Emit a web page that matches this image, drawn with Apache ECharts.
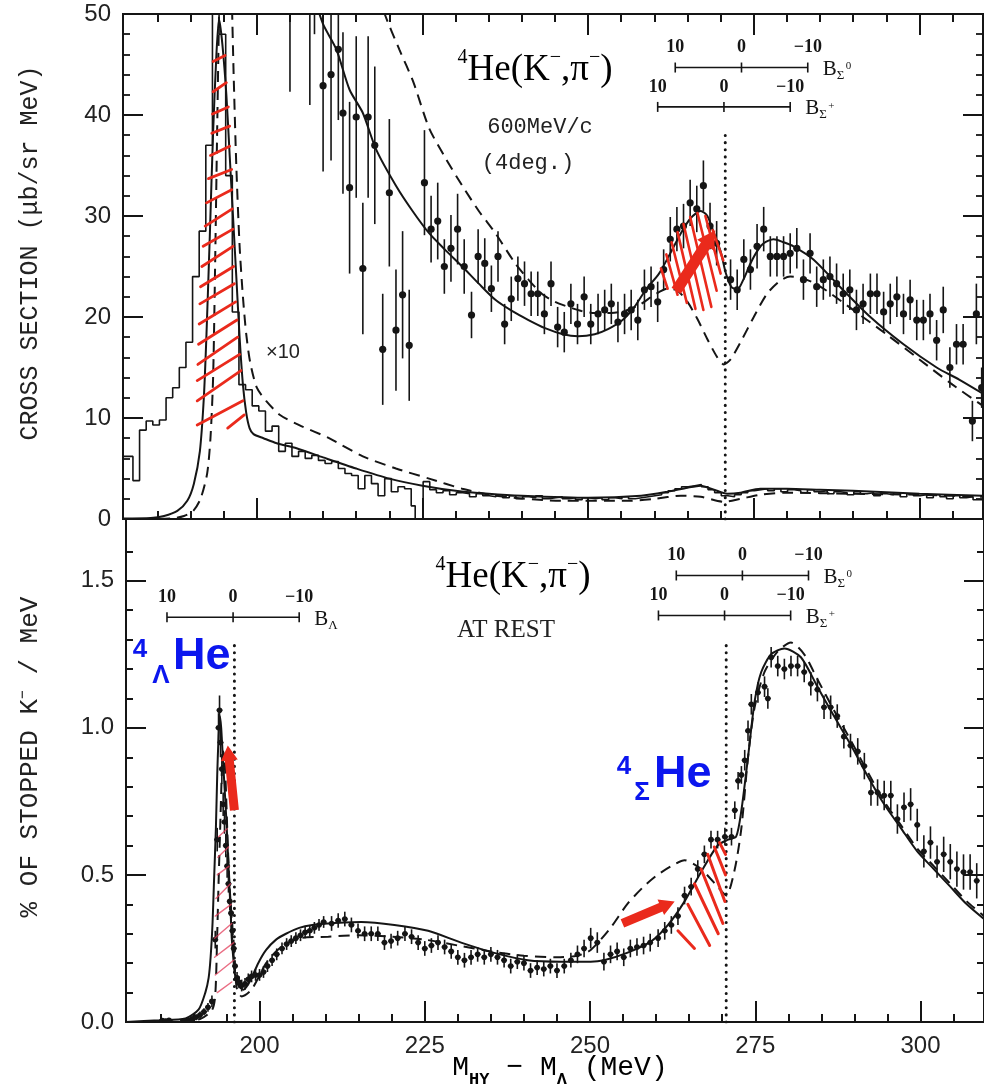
<!DOCTYPE html>
<html>
<head>
<meta charset="utf-8">
<title>4He(K-,pi-) spectra</title>
<script src="https://cdn.jsdelivr.net/npm/echarts@6/dist/echarts.min.js"></script>
<style>
  html, body { margin: 0; padding: 0; background: #fff; }
  #chart { width: 984px; height: 1092px; }
</style>
</head>
<body>
<div id="chart"></div>
<script>
// axis ticks
const xRange = [179.8, 309.6]
const xMajor = [200, 225, 250, 275, 300]
const xMinor = [185, 190, 195, 205, 210, 215, 220, 230, 235, 240, 245, 255, 260, 265, 270, 280, 285, 290, 295, 305]
const yBotMajor = [0, 0.5, 1.0, 1.5]
const yBotMinor = [0.1, 0.2, 0.3, 0.4, 0.6, 0.7, 0.8, 0.9, 1.1, 1.2, 1.3, 1.4, 1.6]

// ---- top panel, 600 MeV/c (4 deg.) ----
// histogram [bin left edge, counts]
const histTop = [
  [179.8, 6.2], [180.3, 6.2], [181.3, 3.8], [182.3, 8.8], [183.3, 9.7], [184.3, 9.3], [185.3, 9.8], [186.3, 12.0],
  [187.3, 13.0], [188.3, 15.0], [189.3, 17.5], [190.3, 24.0], [191.3, 28.5], [192.3, 37.0], [193.3, 55.0],
  [194.3, 48.0], [195.3, 34.0], [196.3, 20.5], [197.3, 13.3], [198.3, 12.8], [199.3, 11.2], [200.3, 10.7],
  [201.3, 8.7], [202.3, 9.2], [203.3, 6.7], [204.3, 7.5], [205.3, 6.2], [206.3, 6.7], [207.3, 6.0], [208.3, 6.3],
  [209.3, 5.8], [210.3, 5.5], [211.3, 5.7], [212.3, 5.0], [213.3, 4.5], [214.3, 4.3], [215.3, 3.0], [216.3, 4.3],
  [217.3, 3.5], [218.3, 2.3], [219.3, 4.0], [220.3, 2.7], [221.3, 3.2], [222.3, 3.0], [223.3, 1.3], [223.9, 0],
  [225.1, 3.7], [226.1, 2.9], [227.1, 2.6], [228.1, 2.8], [229.1, 2.4], [230.1, 2.6], [231.1, 2.5], [232.1, 2.2],
  [233.1, 2.5], [234.1, 2.3], [235.1, 2.2], [236.1, 2.4], [237.1, 2.1], [238.1, 2.3], [239.1, 2.0], [240.1, 2.2],
  [241.1, 2.1], [242.1, 2.3], [243.1, 2.0], [244.1, 2.1], [245.1, 2.2], [246.1, 2.0], [247.1, 2.1], [248.1, 1.9],
  [249.1, 2.1], [250.1, 2.0], [251.1, 2.1], [252.1, 1.9], [253.1, 2.1], [254.1, 2.0], [255.1, 2.2], [256.1, 2.0],
  [257.1, 2.1], [258.1, 2.2], [259.1, 2.3], [260.1, 2.4], [261.1, 2.6], [262.1, 2.8], [263.1, 3.0], [264.1, 3.2],
  [265.1, 3.3], [266.1, 3.4], [267.1, 3.2], [268.1, 2.9], [269.1, 2.6], [270.1, 2.3], [271.1, 2.2], [272.1, 2.4],
  [273.1, 2.6], [274.1, 2.8], [275.1, 2.9], [276.1, 3.0], [277.1, 2.8], [278.1, 3.0], [279.1, 2.7], [280.1, 2.9],
  [281.1, 2.8], [282.1, 2.6], [283.1, 2.9], [284.1, 2.7], [285.1, 2.8], [286.1, 2.5], [287.1, 2.7], [288.1, 2.6],
  [289.1, 2.4], [290.1, 2.7], [291.1, 2.5], [292.1, 2.6], [293.1, 2.3], [294.1, 2.5], [295.1, 2.4], [296.1, 2.6],
  [297.1, 2.2], [298.1, 2.5], [299.1, 2.3], [300.1, 2.4], [301.1, 2.1], [302.1, 2.4], [303.1, 2.2], [304.1, 2.0],
  [305.1, 2.3], [306.1, 2.1], [307.1, 2.2], [308.1, 1.9], [309.6, 1.9]
]
const solidLowTop = [
  [179.8, 0.05], [184, 0.1], [186, 0.3], [188, 0.8], [189.5, 1.8], [190.5, 3.5], [191.4, 6.7], [192, 12], [192.4, 18.3],
  [192.9, 28], [193.4, 38.3], [193.9, 46], [194.3, 49.5], [194.8, 47], [195.4, 42], [195.9, 36], [196.4, 30], [196.9, 24],
  [197.4, 18], [197.9, 13.3], [198.4, 10.5], [198.9, 9], [199.5, 8.4], [201, 8], [203, 7.5], [206, 7], [210, 6.1],
  [215, 5], [220, 4], [225, 3.3], [230, 2.8], [235, 2.5], [240, 2.3], [250, 2.1], [258, 2.3], [262, 2.7], [265, 3.1],
  [267, 3.3], [269, 2.9], [271, 2.5], [273, 2.6], [276, 3.0], [280, 3.0], [285, 2.9], [290, 2.8], [300, 2.5], [309.6, 2.3]
]
const dashedLowTop = [
  [179.8, 0], [187, 0.05], [189, 0.3], [190.4, 0.8], [191.5, 2], [192.5, 4.5], [193, 8], [193.4, 14], [193.7, 25], [194, 38],
  [194.3, 50], [194.6, 58], [195.3, 62], [195.9, 58], [196.2, 52], [196.5, 44], [196.9, 35], [197.4, 27], [197.9, 22],
  [198.4, 18.3], [199, 15.5], [200, 13], [201.4, 11.7], [203.5, 10.3], [206.4, 9.3], [210.9, 8.0], [216, 6.2], [221, 5],
  [226, 4], [231, 3], [236, 2.3], [246, 1.8], [256, 1.8], [260, 2.0], [264, 2.3], [267, 2.2], [270.5, 1.7], [273, 2.0],
  [276, 2.4], [280, 2.6], [290, 2.5], [300, 2.4], [309.6, 2.2]
]
// x10 curves
const solidHighTop = [
  [208.5, 52], [210, 49], [212, 46.5], [214, 42.5], [216, 40.2], [218, 36.6], [221, 33], [223.5, 30.5], [226, 28.3],
  [228.5, 26.6], [231, 25], [233.5, 23.3], [236, 21.7], [238.5, 20.6], [241, 19.7], [243.5, 18.9], [246.2, 18.3],
  [248.5, 18.1], [251, 18.3], [253, 18.8], [255.2, 19.7], [257, 21], [258.7, 22.7], [260.7, 24.3], [262.4, 26.3],
  [264, 28.3], [265.5, 29.8], [267, 30.5], [268, 30], [269, 28.3], [270, 26.5], [270.8, 24.3], [271.6, 23], [272.5, 22.7],
  [273.5, 23.8], [274.5, 25.3], [275.5, 26.5], [276.5, 27.3], [278, 27.7], [279.5, 27.4], [281, 27], [284, 25.7],
  [288, 23], [292.6, 20], [297.6, 17.3], [302.6, 15], [306, 13.8], [309.6, 12.4]
]
const dashedHighTop = [
  [218.5, 52], [219.3, 50], [221.5, 46.5], [223.6, 43.3], [226, 38.7], [228.5, 35.7], [231, 33], [233.5, 30.5],
  [236, 28.3], [239, 25.3], [241, 23.7], [243, 22.3], [245, 21.5], [247, 21], [249, 20.6], [251, 20.4], [253.5, 20.4],
  [256, 20.7], [258, 21.3], [260, 22.2], [262, 22.8], [263.5, 22.6], [265, 21.5], [266.5, 19.8], [268, 17.8],
  [269.5, 16], [270.5, 15.3], [271.5, 15.8], [273, 17.5], [275, 20], [277, 22.3], [279, 23.6], [280.5, 24], [282, 23.9],
  [284, 23.4], [286, 22.6], [290, 20.7], [295, 18.3], [300, 15.8], [305, 13.3], [309.6, 11.2]
]
// x10 data [x, y, error]
const pointsTop = [
  [205.0, 53, 10.7], [208.0, 52, 11], [208.7, 56, 8], [210.0, 42.9, 8.5], [211.2, 44, 8.5], [212.3, 46.5, 7],
  [213.0, 40.2, 8], [214.0, 32.8, 8.5], [215.0, 39.8, 8], [216.0, 24.8, 6.5], [216.8, 39.8, 8], [217.8, 37.0, 7.8],
  [219.0, 16.8, 5.5], [220.0, 32.3, 7.3], [221.0, 18.7, 6], [222.0, 22.2, 6.3], [223.0, 17.2, 5.5], [225.3, 33.3, 5.2],
  [226.3, 28.7, 3.3], [227.3, 29.5, 3.8], [228.3, 25.0, 2.7], [229.3, 26.8, 3.3], [230.3, 28.7, 3.5], [231.3, 25.0, 2.7],
  [232.4, 20.2, 2.3], [233.4, 26.0, 2.7], [234.4, 25.3, 2.5], [235.4, 22.8, 2.3], [236.4, 26.0, 2.5], [237.4, 19.3, 2.0],
  [238.4, 21.8, 2.2], [239.4, 23.8, 2.2], [240.4, 23.3, 2.2], [241.4, 22.3, 2.2], [242.4, 22.3, 2.2], [243.4, 20.3, 2.0],
  [244.4, 23.3, 2.2], [245.4, 19.0, 2.0], [246.4, 18.5, 2.0], [247.4, 21.3, 2.0], [248.4, 19.3, 2.0], [249.4, 22.0, 2.0],
  [250.4, 19.3, 2.0], [251.5, 20.3, 2.0], [252.5, 20.7, 2.0], [253.5, 21.3, 2.0], [254.5, 19.5, 2.0], [255.5, 20.3, 2.0],
  [256.5, 20.7, 2.0], [257.5, 19.7, 2.0], [258.5, 22.7, 2.0], [259.5, 23.0, 2.0], [260.5, 21.5, 2.0], [261.4, 24.7, 2.0],
  [262.4, 27.7, 2.2], [263.4, 28.7, 2.2], [264.4, 29.0, 2.2], [265.4, 31.3, 2.3], [266.4, 30.7, 2.3], [267.4, 33.0, 2.5],
  [268.4, 29.0, 2.3], [269.4, 27.3, 2.2], [271.5, 23.7, 2.0], [272.5, 22.7, 2.0], [273.5, 25.7, 2.0], [274.5, 24.7, 2.0],
  [275.5, 27.0, 2.2], [276.5, 28.7, 2.2], [277.5, 26.0, 2.0], [278.5, 26.0, 2.0], [279.5, 26.0, 2.0], [280.5, 26.3, 2.0],
  [281.5, 26.8, 2.0], [282.5, 23.7, 2.0], [283.5, 26.3, 2.0], [284.5, 23.0, 2.0], [285.5, 23.7, 2.0], [286.5, 24.0, 2.0],
  [287.5, 23.3, 2.0], [288.5, 22.3, 2.0], [289.5, 22.7, 2.0], [290.5, 20.7, 2.0], [291.5, 21.3, 2.0], [292.6, 22.3, 2.0],
  [293.6, 22.3, 2.0], [294.6, 20.5, 2.0], [295.6, 21.3, 2.0], [296.6, 22.0, 2.0], [297.6, 20.3, 2.0], [298.6, 21.7, 2.0],
  [299.6, 19.7, 2.0], [300.6, 19.7, 2.0], [301.6, 20.3, 2.0], [302.6, 17.7, 2.0], [303.6, 20.7, 2.3], [304.6, 15.0, 2.0],
  [305.6, 17.3, 2.0], [306.6, 17.3, 2.0], [308.0, 9.7, 2.0], [308.6, 20.3, 3.0], [309.4, 13.0, 2.0]
]
const thresholdTop = [[270.7, 0], [270.7, 38.5]]
// binding-energy scales [B = 0 position, height]
const scalesTop = [[273.15, 44.7], [270.5, 40.8]]
const scalesTopName = [['Σ', '0'], ['Σ', '+']]
// red marks added on the figure [x1, y1, x2, y2]
const hatchTopL = [
  [193.4, 45.3, 195.2, 45.9], [193.4, 42.3, 195.4, 43.2], [193.3, 40.1, 195.7, 40.8], [193.2, 38.2, 195.9, 38.9],
  [193.0, 36.0, 195.9, 36.9], [192.7, 33.7, 196.2, 34.6], [192.4, 31.3, 196.2, 32.6], [192.2, 29.0, 196.3, 30.7],
  [191.9, 27.0, 196.4, 28.7], [191.7, 25.0, 196.4, 27.0], [191.5, 23.0, 196.5, 25.0], [191.4, 21.3, 196.6, 23.3],
  [191.3, 19.3, 196.8, 21.5], [191.2, 17.3, 197.0, 19.7], [191.1, 15.3, 197.1, 18.0], [191.0, 13.7, 197.4, 16.3],
  [191.0, 11.7, 197.6, 14.7], [191.0, 9.3, 197.9, 11.7], [195.6, 9.0, 198.1, 10.3]
]
const hatchTopR = [
  [261.0, 24.8, 262.0, 22.8], [261.8, 26.2, 263.5, 22.2], [262.6, 27.4, 264.9, 21.4], [263.5, 28.4, 266.2, 20.8],
  [264.4, 29.2, 267.4, 20.7], [265.4, 29.9, 268.6, 21.0], [266.5, 30.3, 269.4, 22.6], [267.7, 30.0, 270.0, 24.3],
  [268.8, 28.6, 270.4, 25.6]
]
const arrowTop = [[263.3, 22.6, 269.2, 28.6]]

// ---- bottom panel, at rest ----
const solidBot = [
  [179.8, 0], [184.8, 0.006], [188.8, 0.012], [190.8, 0.043], [191.8, 0.1], [192.3, 0.15], [192.6, 0.22], [192.9, 0.34],
  [193.1, 0.47], [193.4, 0.66], [193.6, 0.84], [193.8, 0.97], [194.0, 1.04], [194.2, 1.0], [194.4, 0.92], [194.6, 0.84],
  [195.0, 0.68], [195.3, 0.53], [195.6, 0.39], [195.8, 0.285], [196.1, 0.2], [196.3, 0.16], [196.8, 0.124],
  [197.6, 0.11], [198.2, 0.125], [198.8, 0.15], [199.8, 0.2], [201, 0.245], [202.5, 0.28], [204, 0.3], [206, 0.32],
  [208, 0.33], [210.4, 0.335], [215.4, 0.34], [220.4, 0.33], [225.5, 0.31], [230.5, 0.27], [235.5, 0.235],
  [240.6, 0.21], [245.6, 0.205], [250.1, 0.205], [252.1, 0.21], [255.6, 0.235], [259.3, 0.275], [261.8, 0.33],
  [264.3, 0.41], [266.8, 0.51], [269.3, 0.6], [270.9, 0.62], [272.1, 0.63], [272.9, 0.72], [273.9, 0.9], [274.9, 1.09],
  [275.9, 1.19], [277.4, 1.25], [279.4, 1.27], [281.9, 1.24], [284.4, 1.14], [286.9, 1.04], [289.5, 0.94],
  [291.9, 0.84], [294.5, 0.74], [297, 0.66], [299.5, 0.58], [302, 0.52], [304.5, 0.46], [307, 0.40], [309.6, 0.35]
]
const dashedBot = [
  [179.8, 0], [188, 0.003], [191, 0.01], [192.8, 0.04], [193.3, 0.09], [193.6, 0.3], [193.8, 0.47], [194.1, 0.7],
  [194.3, 0.85], [194.5, 0.92], [194.7, 0.9], [194.9, 0.8], [195.2, 0.6], [195.5, 0.45], [195.8, 0.35], [196.2, 0.2],
  [196.6, 0.11], [197.3, 0.087], [198.8, 0.11], [201, 0.2], [203, 0.25], [206, 0.285], [210.4, 0.29], [215, 0.295],
  [220, 0.29], [225, 0.28], [230, 0.26], [235, 0.24], [240, 0.225], [245, 0.22], [248, 0.225], [250.1, 0.245],
  [253.1, 0.32], [255.6, 0.40], [258.1, 0.46], [260.2, 0.50], [262.3, 0.53], [264.3, 0.55], [266.8, 0.52],
  [269.3, 0.46], [270.6, 0.43], [271.9, 0.52], [272.9, 0.66], [273.9, 0.9], [274.9, 1.07], [276.4, 1.19],
  [278.4, 1.26], [280.4, 1.29], [282.4, 1.25], [284.4, 1.165], [286.9, 1.06], [289.5, 0.955], [292, 0.85],
  [294.5, 0.75], [297, 0.67], [299.5, 0.59], [302, 0.53], [304.5, 0.47], [307, 0.41], [309.6, 0.36]
]
const pointsBot = [
  [185.3, 0.005, 0.008], [185.8, 0.003, 0.008], [186.3, 0.006, 0.008], [188.6, 0.004, 0.008], [189.2, 0.006, 0.008],
  [189.8, 0.01, 0.01], [190.4, 0.016, 0.01], [191.0, 0.024, 0.012], [191.6, 0.035, 0.012], [192.2, 0.05, 0.015],
  [192.8, 0.07, 0.02], [193.3, 0.28, 0.03], [193.6, 0.62, 0.04], [193.8, 1.0, 0.05], [193.95, 1.06, 0.05],
  [194.1, 0.95, 0.05], [194.3, 0.86, 0.05], [194.5, 0.74, 0.04], [194.7, 0.68, 0.04], [194.9, 0.6, 0.04],
  [195.1, 0.53, 0.04], [195.3, 0.47, 0.03], [195.5, 0.41, 0.03], [195.7, 0.37, 0.03], [195.9, 0.31, 0.03],
  [196.1, 0.25, 0.03], [196.3, 0.19, 0.02], [196.6, 0.15, 0.02], [196.9, 0.135, 0.02], [197.3, 0.124, 0.02],
  [197.8, 0.13, 0.02], [198.3, 0.145, 0.02], [198.8, 0.155, 0.02], [199.4, 0.16, 0.02], [200.0, 0.16, 0.02],
  [200.6, 0.17, 0.02], [201.2, 0.19, 0.02], [201.9, 0.21, 0.02], [202.6, 0.23, 0.02], [203.4, 0.25, 0.02],
  [204.1, 0.265, 0.02], [204.8, 0.275, 0.02], [205.5, 0.285, 0.02], [206.2, 0.295, 0.02], [206.9, 0.305, 0.02],
  [207.6, 0.31, 0.02], [208.3, 0.32, 0.02], [209.0, 0.33, 0.02], [209.7, 0.34, 0.02],
  [210.9, 0.335, 0.025], [211.9, 0.345, 0.025], [212.9, 0.35, 0.025], [213.9, 0.33, 0.025], [214.9, 0.31, 0.025],
  [215.9, 0.30, 0.025], [216.9, 0.30, 0.025], [217.9, 0.30, 0.025], [218.9, 0.27, 0.025], [219.9, 0.275, 0.025],
  [220.9, 0.285, 0.025], [222.0, 0.30, 0.025], [223.0, 0.29, 0.025], [224.0, 0.27, 0.025], [225.0, 0.25, 0.025],
  [226.0, 0.26, 0.025], [227.0, 0.27, 0.025], [228.0, 0.255, 0.025], [229.0, 0.24, 0.025], [230.0, 0.22, 0.025],
  [231.0, 0.21, 0.025], [232.0, 0.22, 0.025], [233.0, 0.23, 0.025], [234.0, 0.22, 0.025], [235.0, 0.23, 0.025],
  [236.0, 0.22, 0.025], [237.0, 0.21, 0.025], [238.0, 0.19, 0.025], [239.0, 0.205, 0.025], [240.0, 0.2, 0.025],
  [241.0, 0.175, 0.025], [242.0, 0.185, 0.025], [243.0, 0.18, 0.025], [244.0, 0.19, 0.025], [245.0, 0.175, 0.025],
  [246.1, 0.19, 0.025], [247.1, 0.21, 0.025], [248.1, 0.23, 0.03], [249.1, 0.25, 0.03], [250.1, 0.285, 0.035],
  [251.1, 0.27, 0.035], [252.1, 0.205, 0.03], [253.1, 0.23, 0.03], [254.1, 0.24, 0.03], [255.1, 0.22, 0.03],
  [256.1, 0.25, 0.03], [257.1, 0.255, 0.03], [258.1, 0.26, 0.03], [259.1, 0.27, 0.03],
  [260.3, 0.285, 0.03], [261.3, 0.31, 0.03], [262.3, 0.33, 0.03], [263.3, 0.36, 0.03], [264.3, 0.43, 0.03],
  [265.3, 0.46, 0.03], [266.3, 0.52, 0.03], [267.3, 0.57, 0.03], [268.3, 0.62, 0.03], [269.3, 0.62, 0.03],
  [270.4, 0.63, 0.03], [271.4, 0.63, 0.03], [271.9, 0.72, 0.03], [272.4, 0.82, 0.03], [272.9, 0.84, 0.03],
  [273.4, 0.89, 0.035], [273.9, 0.99, 0.035], [274.4, 1.08, 0.035], [275.4, 1.12, 0.035], [276.4, 1.14, 0.035],
  [276.9, 1.1, 0.035], [277.4, 1.24, 0.035], [278.4, 1.21, 0.035], [279.4, 1.2, 0.035], [280.4, 1.21, 0.035],
  [281.4, 1.21, 0.035], [282.4, 1.19, 0.035], [283.4, 1.15, 0.04], [284.4, 1.13, 0.04], [285.4, 1.07, 0.04],
  [286.4, 1.07, 0.04], [287.4, 1.04, 0.04], [288.4, 0.97, 0.04], [289.4, 0.94, 0.04], [290.5, 0.92, 0.045],
  [291.5, 0.87, 0.045], [292.5, 0.78, 0.045], [293.5, 0.78, 0.045], [294.5, 0.77, 0.05], [295.5, 0.77, 0.05],
  [296.5, 0.69, 0.05], [297.5, 0.73, 0.05], [298.5, 0.74, 0.055], [299.5, 0.67, 0.055], [300.5, 0.58, 0.055],
  [301.5, 0.61, 0.055], [302.5, 0.545, 0.055], [303.5, 0.57, 0.06], [304.5, 0.545, 0.06], [305.5, 0.52, 0.06],
  [306.5, 0.51, 0.06], [307.5, 0.51, 0.06], [308.5, 0.48, 0.06]
]
const thresholdsBot = [[[196.2, 0], [196.2, 1.29]], [[270.6, 0], [270.6, 1.29]]]
const scalesBot = [[273.05, 1.518], [270.35, 1.382], [196.0, 1.376]]
const scalesBotName = [['Σ', '0'], ['Σ', '+'], ['Λ', '']]
const hatchBotL = [
  [193.6, 0.10, 195.8, 0.136], [193.3, 0.16, 196.1, 0.21], [193.2, 0.22, 196.1, 0.27], [193.2, 0.285, 195.8, 0.335],
  [193.3, 0.36, 195.7, 0.40], [193.4, 0.42, 195.6, 0.47], [193.6, 0.50, 195.4, 0.53], [193.7, 0.56, 195.3, 0.595],
  [193.8, 0.63, 195.1, 0.657]
]
const hatchBotR = [
  [263.3, 0.31, 265.8, 0.25], [264.8, 0.40, 268.1, 0.26], [265.8, 0.47, 269.4, 0.30], [266.8, 0.52, 270.1, 0.335],
  [267.8, 0.57, 270.4, 0.41], [268.8, 0.595, 270.5, 0.50], [269.6, 0.61, 270.5, 0.57]
]
const arrowsBot = [[196.2, 0.72, 195.2, 0.94], [254.9, 0.335, 262.8, 0.41]]

// ---- drawing helpers ----
const ink = '#151515'
const red = '#ea2a1c'
const serif = '"Liberation Serif", "DejaVu Serif", serif'
const mono = '"Liberation Mono", "DejaVu Sans Mono", monospace'
const sans = '"Liberation Sans", Arial, sans-serif'

function errorBars (caps) {
  return function (params, api) {
    const x = api.value(0)
    const y = api.value(1)
    const e = api.value(2)
    const c = api.coord([x, y])
    const hi = api.coord([x, y + e])
    const lo = api.coord([x, y - e])
    const kids = [
      { type: 'line', shape: { x1: c[0], y1: hi[1], x2: c[0], y2: lo[1] }, style: { stroke: ink, lineWidth: 1.6 } },
      { type: 'circle', shape: { cx: c[0], cy: c[1], r: caps ? 2.8 : 3.6 }, style: { fill: ink } }
    ]
    if (caps) {
      const l = api.coord([x - 0.45, y])
      const r = api.coord([x + 0.45, y])
      kids.push({ type: 'line', shape: { x1: l[0], y1: c[1], x2: r[0], y2: c[1] }, style: { stroke: ink, lineWidth: 1.4 } })
    }
    return { type: 'group', children: kids }
  }
}

function segments (color, width) {
  return function (params, api) {
    const a = api.coord([api.value(0), api.value(1)])
    const b = api.coord([api.value(2), api.value(3)])
    return { type: 'line', shape: { x1: a[0], y1: a[1], x2: b[0], y2: b[1] }, style: { stroke: color, lineWidth: width, lineCap: 'round' } }
  }
}

function arrows (body, headW, headL) {
  return function (params, api) {
    const a = api.coord([api.value(0), api.value(1)])
    const b = api.coord([api.value(2), api.value(3)])
    const dx = b[0] - a[0]
    const dy = b[1] - a[1]
    const len = Math.sqrt(dx * dx + dy * dy)
    const ux = dx / len
    const uy = dy / len
    const nx = -uy
    const ny = ux
    const bx = b[0] - ux * headL
    const by = b[1] - uy * headL
    const pts = [
      [a[0] + nx * body / 2, a[1] + ny * body / 2],
      [bx + nx * body / 2, by + ny * body / 2],
      [bx + nx * headW / 2, by + ny * headW / 2],
      [b[0], b[1]],
      [bx - nx * headW / 2, by - ny * headW / 2],
      [bx - nx * body / 2, by - ny * body / 2],
      [a[0] - nx * body / 2, a[1] - ny * body / 2]
    ]
    return { type: 'polygon', shape: { points: pts }, style: { fill: red } }
  }
}

function txt (text, x, y, font, align) {
  return {
    type: 'text',
    style: { text: text, x: x, y: y, font: font, fill: ink, align: align || 'center', textAlign: align || 'center', verticalAlign: 'middle', textVerticalAlign: 'middle' }
  }
}

function scales (names) {
  return function (params, api) {
    const z = api.value(0)
    const y = api.value(1)
    const a = api.coord([z - 10, y])
    const m = api.coord([z, y])
    const b = api.coord([z + 10, y])
    const f = '600 18px ' + serif
    const nm = names[params.dataIndex]
    const kids = [
      { type: 'line', shape: { x1: a[0], y1: a[1], x2: b[0], y2: b[1] }, style: { stroke: ink, lineWidth: 1.6 } }
    ]
    ;[a, m, b].forEach(function (p) {
      kids.push({ type: 'line', shape: { x1: p[0], y1: p[1] - 5, x2: p[0], y2: p[1] + 5 }, style: { stroke: ink, lineWidth: 1.6 } })
    })
    kids.push(txt('10', a[0], a[1] - 20, f))
    kids.push(txt('0', m[0], m[1] - 20, f))
    kids.push(txt('\u221210', b[0], b[1] - 20, f))
    kids.push(txt('B', b[0] + 15, b[1] + 2, '21px ' + serif, 'left'))
    kids.push(txt(nm[0], b[0] + 29, b[1] + 8, '13px ' + serif, 'left'))
    kids.push(txt(nm[1], b[0] + 38, b[1] - 1, '11px ' + serif, 'left'))
    return { type: 'group', children: kids }
  }
}

function xAxis (grid, pos, values, len, labels) {
  return {
    type: 'value', gridIndex: grid, position: pos, min: xRange[0], max: xRange[1],
    axisLine: { show: false },
    splitLine: { show: false },
    axisTick: { show: true, inside: true, length: len, customValues: values, lineStyle: { color: ink, width: 2 } },
    axisLabel: labels
      ? { show: true, customValues: values, margin: 12, color: '#222', fontSize: 24, fontFamily: sans }
      : { show: false }
  }
}

function yBot (pos, values, len, labels) {
  return {
    type: 'value', gridIndex: 1, position: pos, min: 0, max: 1.71,
    axisLine: { show: false },
    splitLine: { show: false },
    axisTick: { show: true, inside: true, length: len, customValues: values, lineStyle: { color: ink, width: 2 } },
    axisLabel: labels
      ? { show: true, customValues: values, margin: 12, color: '#222', fontSize: 24, fontFamily: sans, formatter: function (v) { return v.toFixed(1) } }
      : { show: false }
  }
}

function yTop (pos, labels) {
  return {
    type: 'value', gridIndex: 0, position: pos, min: 0, max: 50, interval: 10,
    axisLine: { show: false },
    splitLine: { show: false },
    axisTick: { show: true, inside: true, length: 20, lineStyle: { color: ink, width: 2 } },
    minorTick: { show: true, splitNumber: 5, length: 7, lineStyle: { color: ink, width: 1.8 } },
    axisLabel: labels ? { show: true, margin: 12, color: '#222', fontSize: 24, fontFamily: sans } : { show: false }
  }
}

function curve (data, dashed, xi, yi) {
  return {
    type: 'line', data: data, xAxisIndex: xi, yAxisIndex: yi, symbol: 'none', smooth: 0.25, clip: true,
    lineStyle: { color: ink, width: 2, type: dashed ? [11, 7] : 'solid' }, z: 3
  }
}

function dotted (data, xi, yi) {
  return {
    type: 'line', data: data, xAxisIndex: xi, yAxisIndex: yi, symbol: 'none', clip: true,
    lineStyle: { color: ink, width: 3, type: [0.1, 7], cap: 'round' }, z: 3
  }
}

function custom (data, render, xi, yi, enc, z) {
  return { type: 'custom', data: data, xAxisIndex: xi, yAxisIndex: yi, renderItem: render, encode: enc, clip: true, z: z || 4 }
}

const ptEnc = { x: 0, y: 1 }
const segEnc = { x: [0, 2], y: [1, 3] }

const chart = echarts.init(document.getElementById('chart'))
chart.setOption({
  animation: false,
  backgroundColor: '#fff',
  grid: [
    { left: 123, top: 14, width: 860, height: 505, show: true, borderColor: ink, borderWidth: 2 },
    { left: 126, top: 519, width: 860, height: 503, show: true, borderColor: ink, borderWidth: 2 }
  ],
  xAxis: [
    xAxis(0, 'bottom', xMajor, 21, false),
    xAxis(0, 'bottom', xMinor, 8, false),
    xAxis(0, 'top', xMajor, 21, false),
    xAxis(0, 'top', xMinor, 8, false),
    xAxis(1, 'bottom', xMajor, 21, true),
    xAxis(1, 'bottom', xMinor, 8, false)
  ],
  yAxis: [
    yTop('left', true),
    yTop('right', false),
    yBot('left', yBotMajor, 20, true),
    yBot('left', yBotMinor, 7, false),
    yBot('right', yBotMajor, 20, false),
    yBot('right', yBotMinor, 7, false)
  ],
  series: [
    {
      type: 'line', data: histTop, step: 'end', xAxisIndex: 0, yAxisIndex: 0, symbol: 'none', clip: true,
      lineStyle: { color: ink, width: 1.6 }, z: 2
    },
    curve(solidLowTop, false, 0, 0),
    curve(dashedLowTop, true, 0, 0),
    curve(solidHighTop, false, 0, 0),
    curve(dashedHighTop, true, 0, 0),
    dotted(thresholdTop, 0, 0),
    custom(hatchTopL, segments(red, 2.8), 0, 0, segEnc, 5),
    custom(hatchTopR, segments(red, 2.6), 0, 0, segEnc, 5),
    custom(arrowTop, arrows(11, 20, 18), 0, 0, segEnc, 6),
    custom(pointsTop, errorBars(false), 0, 0, ptEnc, 4),
    custom(scalesTop, scales(scalesTopName), 0, 0, ptEnc, 4),

    curve(solidBot, false, 4, 2),
    curve(dashedBot, true, 4, 2),
    dotted(thresholdsBot[0], 4, 2),
    dotted(thresholdsBot[1], 4, 2),
    custom(hatchBotL, segments('rgba(225,60,90,0.75)', 1.4), 4, 2, segEnc, 5),
    custom(hatchBotR, segments(red, 3), 4, 2, segEnc, 5),
    custom(arrowsBot, arrows(9, 17, 15), 4, 2, segEnc, 6),
    custom(pointsBot, errorBars(true), 4, 2, ptEnc, 4),
    custom(scalesBot, scales(scalesBotName), 4, 2, ptEnc, 4)
  ],
  graphic: [
    {
      type: 'text', x: 30, y: 253, rotation: Math.PI / 2,
      style: { text: 'CROSS SECTION (\u03bcb/sr MeV)', font: '25px ' + mono, fill: '#222', align: 'center', verticalAlign: 'middle', textAlign: 'center', textVerticalAlign: 'middle' }
    },
    {
      type: 'text', x: 30, y: 757, rotation: Math.PI / 2,
      style: {
        text: '{m|% OF STOPPED K}{s|\u2212}{m| / MeV}', align: 'center', verticalAlign: 'middle', textAlign: 'center', textVerticalAlign: 'middle',
        rich: { m: { font: '26px ' + mono, fill: '#222', fontSize: 26, fontFamily: mono, color: '#222' }, s: { fontSize: 15, fontFamily: sans, color: '#222', verticalAlign: 'top', lineHeight: 30 } }
      }
    },
    {
      type: 'text', x: 560, y: 1068,
      style: {
        text: '{m|M}{s|HY}{m| \u2212 M}{s|\u039b}{m| (MeV)}', align: 'center', verticalAlign: 'middle', textAlign: 'center', textVerticalAlign: 'middle',
        rich: { m: { fontSize: 28, fontFamily: mono, color: '#222' }, s: { fontSize: 17, fontFamily: mono, fontWeight: 'bold', color: '#222', verticalAlign: 'bottom', lineHeight: 40 } }
      }
    },
    {
      type: 'text', x: 535, y: 70,
      style: {
        text: '{p|4}{m|He(K}{p|\u2212}{m|,\u03c0}{p|\u2212}{m|)}', align: 'center', verticalAlign: 'middle', textAlign: 'center', textVerticalAlign: 'middle',
        rich: { m: { fontSize: 37, fontFamily: serif, color: '#222' }, p: { fontSize: 20, fontFamily: serif, color: '#222', verticalAlign: 'top', lineHeight: 44 } }
      }
    },
    {
      type: 'text', x: 513, y: 577,
      style: {
        text: '{p|4}{m|He(K}{p|\u2212}{m|,\u03c0}{p|\u2212}{m|)}', align: 'center', verticalAlign: 'middle', textAlign: 'center', textVerticalAlign: 'middle',
        rich: { m: { fontSize: 37, fontFamily: serif, color: '#222' }, p: { fontSize: 20, fontFamily: serif, color: '#222', verticalAlign: 'top', lineHeight: 44 } }
      }
    },
    { type: 'text', x: 540, y: 127, style: { text: '600MeV/c', font: '22px ' + mono, fill: '#222', align: 'center', verticalAlign: 'middle', textAlign: 'center', textVerticalAlign: 'middle' } },
    { type: 'text', x: 528, y: 163, style: { text: '(4deg.)', font: '22px ' + mono, fill: '#222', align: 'center', verticalAlign: 'middle', textAlign: 'center', textVerticalAlign: 'middle' } },
    { type: 'text', x: 506, y: 630, style: { text: 'AT REST', font: '25px ' + serif, fill: '#222', align: 'center', verticalAlign: 'middle', textAlign: 'center', textVerticalAlign: 'middle' } },
    { type: 'text', x: 283, y: 352, style: { text: '\u00d710', font: '20px ' + sans, fill: '#222', align: 'center', verticalAlign: 'middle', textAlign: 'center', textVerticalAlign: 'middle' } },

    { type: 'text', x: 140, y: 650, style: { text: '4', font: 'bold 26px ' + sans, fill: '#0b16ee', align: 'center', verticalAlign: 'middle', textAlign: 'center', textVerticalAlign: 'middle' } },
    { type: 'text', x: 161, y: 676, style: { text: '\u039b', font: 'bold 26px ' + sans, fill: '#0b16ee', align: 'center', verticalAlign: 'middle', textAlign: 'center', textVerticalAlign: 'middle' } },
    { type: 'text', x: 173, y: 657, style: { text: 'He', font: 'bold 45px ' + sans, fill: '#0b16ee', align: 'left', verticalAlign: 'middle', textAlign: 'left', textVerticalAlign: 'middle' } },
    { type: 'text', x: 624, y: 767, style: { text: '4', font: 'bold 26px ' + sans, fill: '#0b16ee', align: 'center', verticalAlign: 'middle', textAlign: 'center', textVerticalAlign: 'middle' } },
    { type: 'text', x: 642, y: 793, style: { text: '\u03a3', font: 'bold 26px ' + sans, fill: '#0b16ee', align: 'center', verticalAlign: 'middle', textAlign: 'center', textVerticalAlign: 'middle' } },
    { type: 'text', x: 654, y: 775, style: { text: 'He', font: 'bold 45px ' + sans, fill: '#0b16ee', align: 'left', verticalAlign: 'middle', textAlign: 'left', textVerticalAlign: 'middle' } }
  ]
})
</script>
</body>
</html>
